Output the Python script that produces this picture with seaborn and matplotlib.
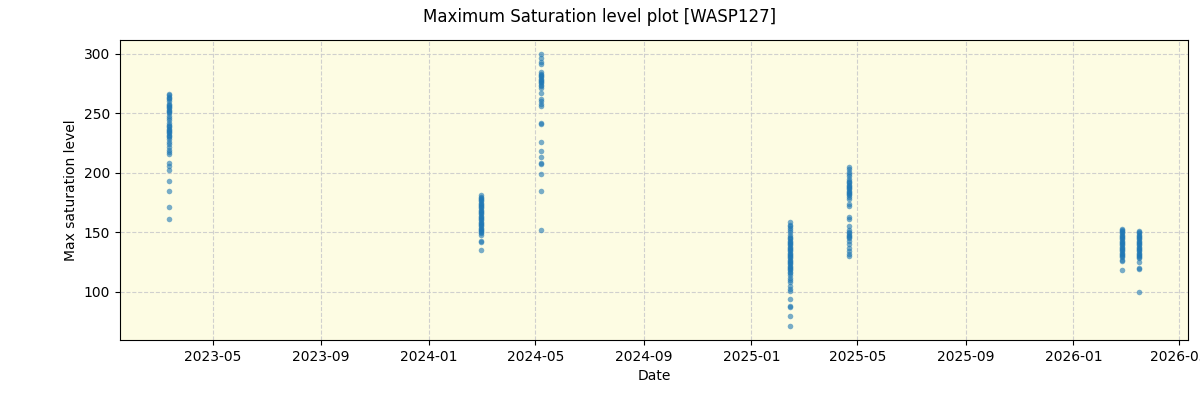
from matplotlib import pyplot as plt
import matplotlib.dates as mdates
import seaborn as sns
import pandas as pd

night_dates = ["2023-03-12", "2024-02-29", "2024-05-07", "2025-02-14",
               "2025-04-22", "2026-02-25", "2026-03-17"]

sat_2023_03 = [266, 265, 264, 263, 262, 260, 258, 257, 256, 255, 254, 253, 252, 251,
               250, 248, 246, 244, 242, 240, 239, 238, 237, 236, 235, 234, 233, 232,
               231, 230, 228, 226, 224, 222, 219, 217, 216, 208, 206, 202, 193, 185,
               171, 161]
sat_2024_02 = [181, 180, 179, 178, 177, 176, 175, 174, 173, 172, 171, 170, 169, 168,
               167, 166, 165, 164, 163, 162, 161, 160, 159, 158, 157, 156, 155, 154,
               153, 152, 151, 150, 149, 148, 143, 142, 135]
sat_2024_05 = [300, 296, 293, 291, 285, 283, 282, 281, 280, 279, 278, 277, 276, 275,
               274, 273, 271, 267, 262, 260, 258, 256, 242, 241, 226, 218, 213, 208,
               207, 199, 185, 152]
sat_2025_02 = [159, 156, 155, 154, 152, 150, 148, 146, 145, 144, 143, 142, 141, 140,
               139, 138, 137, 136, 135, 134, 133, 132, 131, 130, 129, 128, 127, 126,
               125, 124, 123, 122, 121, 120, 119, 118, 117, 116, 114, 112, 110, 108,
               105, 102, 101, 94, 88, 87, 80, 71]
sat_2025_04 = [205, 203, 201, 199, 197, 195, 193, 192, 191, 190, 189, 188, 187, 186,
               185, 184, 183, 182, 181, 180, 178, 174, 172, 163, 161, 155, 152, 150,
               149, 148, 147, 146, 145, 143, 140, 137, 134, 132, 130]
sat_2026_02 = [153, 152, 151, 150, 149, 148, 147, 146, 145, 144, 143, 142, 141, 140,
               139, 138, 137, 136, 135, 134, 133, 132, 131, 130, 129, 127, 126, 118]
sat_2026_03 = [151, 150, 149, 148, 147, 146, 145, 144, 143, 142, 141, 140, 139, 138,
               137, 136, 135, 134, 133, 132, 131, 130, 129, 128, 125, 120, 119, 100]

nights = [sat_2023_03, sat_2024_02, sat_2024_05, sat_2025_02,
          sat_2025_04, sat_2026_02, sat_2026_03]

rows = []
for d, vals in zip(night_dates, nights):
    for v in vals:
        rows.append({"Date": pd.Timestamp(d), "Max saturation level": v})
df = pd.DataFrame(rows)

fig, ax = plt.subplots(figsize=(12, 4), dpi=100)
ax.set_facecolor("#fdfce3")
sns.scatterplot(data=df, x="Date", y="Max saturation level", ax=ax,
                s=16, alpha=0.6, color="tab:blue", edgecolor=None, linewidth=0)
ax.grid(True, linestyle="--", color="#cccccc", alpha=0.9)
ax.set_axisbelow(True)
ax.xaxis.set_major_locator(mdates.MonthLocator(bymonth=[1, 5, 9]))
ax.xaxis.set_major_formatter(mdates.DateFormatter("%Y-%m"))
ax.set_xlabel("Date")
ax.set_ylabel("Max saturation level")
fig.suptitle("Maximum Saturation level plot [WASP127]")
fig.subplots_adjust(left=0.1, right=0.99, top=0.9, bottom=0.15)
fig.savefig("out.png")
